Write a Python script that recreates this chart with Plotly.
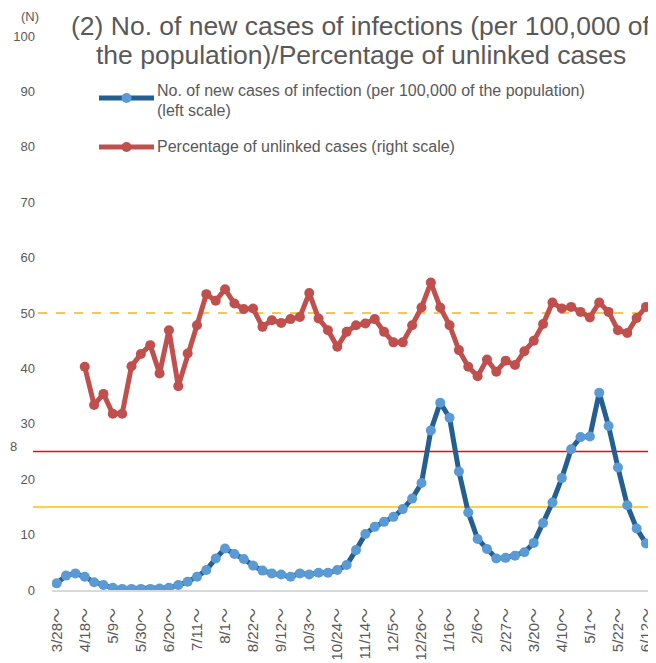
import plotly.graph_objects as go

weeks = [
    "2020-03-28", "2020-04-04", "2020-04-11", "2020-04-18", "2020-04-25", "2020-05-02", "2020-05-09",
    "2020-05-16", "2020-05-23", "2020-05-30", "2020-06-06", "2020-06-13", "2020-06-20", "2020-06-27",
    "2020-07-04", "2020-07-11", "2020-07-18", "2020-07-25", "2020-08-01", "2020-08-08", "2020-08-15",
    "2020-08-22", "2020-08-29", "2020-09-05", "2020-09-12", "2020-09-19", "2020-09-26", "2020-10-03",
    "2020-10-10", "2020-10-17", "2020-10-24", "2020-10-31", "2020-11-07", "2020-11-14", "2020-11-21",
    "2020-11-28", "2020-12-05", "2020-12-12", "2020-12-19", "2020-12-26", "2021-01-02", "2021-01-09",
    "2021-01-16", "2021-01-23", "2021-01-30", "2021-02-06", "2021-02-13", "2021-02-20", "2021-02-27",
    "2021-03-06", "2021-03-13", "2021-03-20", "2021-03-27", "2021-04-03", "2021-04-10", "2021-04-17",
    "2021-04-24", "2021-05-01", "2021-05-08", "2021-05-15", "2021-05-22", "2021-05-29", "2021-06-05",
    "2021-06-12", "2021-06-19",
]

tick_weeks = [
    "2020-03-28", "2020-04-18", "2020-05-09", "2020-05-30", "2020-06-20", "2020-07-11", "2020-08-01",
    "2020-08-22", "2020-09-12", "2020-10-03", "2020-10-24", "2020-11-14", "2020-12-05", "2020-12-26",
    "2021-01-16", "2021-02-06", "2021-02-27", "2021-03-20", "2021-04-10", "2021-05-01", "2021-05-22",
    "2021-06-12",
]
tick_labels = [
    "3/28～", "4/18～", "5/9～", "5/30～", "6/20～", "7/11～", "8/1～", "8/22～", "9/12～", "10/3～",
    "10/24～", "11/14～", "12/5～", "12/26～", "1/16～", "2/6～", "2/27～", "3/20～", "4/10～", "5/1～",
    "5/22～", "6/12～",
]

new_cases = [
    1.2, 2.6, 3.0, 2.4, 1.4, 0.9, 0.4, 0.2, 0.2, 0.2, 0.2, 0.25, 0.4, 0.9, 1.5, 2.4, 3.6, 5.7, 7.5,
    6.5, 5.6, 4.4, 3.5, 3.0, 2.8, 2.4, 3.0, 2.8, 3.1, 3.1, 3.6, 4.5, 7.2, 10.1, 11.4, 12.3, 13.2,
    14.6, 16.5, 19.3, 28.8, 33.8, 31.1, 21.4, 14.0, 9.2, 7.4, 5.7, 5.8, 6.2, 6.8, 8.5, 12.1, 15.8,
    20.2, 25.4, 27.6, 27.7, 35.6, 29.6, 22.1, 15.3, 11.1, 8.4, 8.2,
]

unlinked_pct = [
    None, None, None, 40.3, 33.4, 35.4, 31.8, 31.8, 40.4, 42.6, 44.2, 39.1, 46.9, 36.8, 42.7, 47.8,
    53.4, 52.2, 54.3, 51.7, 50.7, 50.8, 47.5, 48.7, 48.2, 48.9, 49.3, 53.6, 49.0, 46.9, 43.9, 46.6,
    47.8, 48.1, 48.9, 46.6, 44.7, 44.7, 47.8, 51.0, 55.5, 51.0, 47.8, 43.3, 40.3, 38.6, 41.6, 39.4,
    41.4, 40.6, 43.1, 45.0, 48.0, 51.9, 50.8, 51.1, 50.2, 49.2, 51.9, 50.2, 46.9, 46.4, 49.1, 51.1,
    None,
]

y_ticks = [0, 10, 20, 30, 40, 50, 60, 70, 80, 90, 100]

# reference levels: (value, colour, dash)
ref_levels = [(25, "#ff0000", "solid"), (15, "#ffc000", "solid"), (50, "#f5b324", "dash")]

title_lines = ["(2) No. of new cases of infections (per 100,000 of",
               "the population)/Percentage of unlinked cases"]
legend_lines = [["No. of new cases of infection (per 100,000 of the population)", "(left scale)"],
                ["Percentage of unlinked cases (right scale)"]]

# page body keeps its default 8px margin, so the figure sits at (8, 8) in the window
OFF = 8
W, H = 656 - OFF, 663 - OFF
ML, MR, MT, MB = 52 - OFF, 0, 36 - OFF, 73
PW, PH = W - ML - MR, H - MT - MB


def px_x(px):
    """window pixel x -> paper fraction"""
    return (px - OFF - ML) / PW


def px_y(py):
    """window pixel y -> paper fraction"""
    return (OFF + H - MB - py) / PH


GREY = "#595959"
FONT = "Liberation Sans, Arial, Noto Sans CJK JP, sans-serif"

fig = go.Figure()
fig.add_trace(go.Scatter(
    x=weeks, y=new_cases, mode="lines+markers", name=legend_lines[0][0],
    line=dict(color="#255e91", width=5),
    marker=dict(color="#5b9bd5", size=10),
))
fig.add_trace(go.Scatter(
    x=weeks, y=unlinked_pct, mode="lines+markers", name=legend_lines[1][0],
    line=dict(color="#c0504d", width=5),
    marker=dict(color="#c0504d", size=10),
))

shapes = []
for val, col, dash in ref_levels:
    x0 = px_x(38) if dash == "dash" else px_x(33)
    shapes.append(dict(type="line", xref="paper", yref="y", x0=x0, x1=1.0, y0=val, y1=val,
                       line=dict(color=col, width=1.5, dash=dash), layer="below"))

annotations = []
# manual legend
leg_rows = [(98, "#255e91", "#5b9bd5", [91, 110]), (147, "#c0504d", "#c0504d", [147])]
for (py, lc, mc, text_ys), lines in zip(leg_rows, legend_lines):
    shapes.append(dict(type="line", xref="paper", yref="paper", x0=px_x(99), x1=px_x(154),
                       y0=px_y(py), y1=px_y(py), line=dict(color=lc, width=5)))
    shapes.append(dict(type="circle", xref="paper", yref="paper", xsizemode="pixel",
                       ysizemode="pixel", xanchor=px_x(126.5), yanchor=px_y(py),
                       x0=-5, x1=5, y0=-5, y1=5, fillcolor=mc, line=dict(width=0)))
    for ty, line in zip(text_ys, lines):
        annotations.append(dict(xref="paper", yref="paper", x=px_x(155), y=px_y(ty),
                                xanchor="left", yanchor="middle", align="left", showarrow=False,
                                text=line, font=dict(size=16, color=GREY, family=FONT)))

annotations.append(dict(xref="paper", yref="paper", x=px_x(30), y=px_y(17), xanchor="center",
                        yanchor="middle", showarrow=False, text="(N)",
                        font=dict(size=13, color=GREY, family=FONT)))
annotations.append(dict(xref="paper", yref="paper", x=px_x(OFF), y=px_y(446), xanchor="left",
                        yanchor="middle", showarrow=False, text="8",
                        font=dict(size=13, color=GREY, family=FONT)))
for ty, line in zip([26, 55], title_lines):
    annotations.append(dict(xref="paper", yref="paper", x=px_x(361), y=px_y(ty),
                            xanchor="center", yanchor="middle", showarrow=False, text=line,
                            font=dict(size=26.5, color=GREY, family=FONT)))

fig.update_layout(
    width=W, height=H,
    margin=dict(l=ML, r=MR, t=MT, b=MB, pad=0),
    paper_bgcolor="white", plot_bgcolor="rgba(0,0,0,0)",
    showlegend=False,
    font=dict(family=FONT, color=GREY, size=13),
    shapes=shapes, annotations=annotations,
    xaxis=dict(type="category", categoryorder="array", categoryarray=weeks,
               range=[-0.5, 64.07], tickmode="array", tickvals=tick_weeks, ticktext=tick_labels,
               tickangle=-90, showgrid=False, showline=True, linecolor="#d9d9d9", linewidth=2,
               ticks="", zeroline=False, automargin=False, ticklabelstandoff=10,
               tickfont=dict(size=15, color=GREY)),
    yaxis=dict(range=[0, 100], tickvals=y_ticks, showgrid=False, showline=False, zeroline=False,
               ticks="", automargin=False, ticklabelstandoff=16,
               tickfont=dict(size=13, color=GREY)),
)

fig.write_html("out.html")
